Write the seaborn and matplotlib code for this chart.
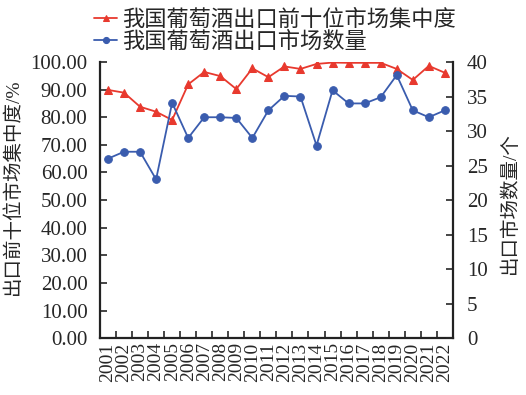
import matplotlib
matplotlib.use('Agg')
import matplotlib.pyplot as plt
from matplotlib.ticker import FixedLocator, FormatStrFormatter
import seaborn as sns
import pandas as pd

years = list(range(2001, 2023))
# top-10 market concentration (%), left axis
concentration = [89.9, 88.9, 83.8, 82.0, 79.0, 91.9, 96.4, 94.9, 90.2, 97.7, 94.5,
                 98.4, 97.5, 99.3, 99.8, 99.7, 99.7, 99.7, 97.5, 93.5, 98.6, 96.1]
# number of export markets, right axis
markets = [26.0, 27.0, 27.0, 23.0, 34.1, 29.0, 32.0, 32.0, 31.9, 29.0, 33.0,
           35.1, 35.0, 27.9, 35.9, 34.0, 34.0, 34.9, 38.1, 33.0, 32.0, 33.0]

label_red = '我国葡萄酒出口前十位市场集中度'
label_blue = '我国葡萄酒出口市场数量'

df = pd.DataFrame({'year': years, 'conc': concentration, 'n': markets})

sns.set_style('ticks')
plt.rcParams['font.family'] = ['Liberation Serif', 'Noto Sans CJK SC', 'DejaVu Sans']
plt.rcParams['font.size'] = 14

red = '#e8392e'
blue = '#3a5cae'

fig = plt.figure(figsize=(5.26, 3.95), dpi=100)
ax = fig.add_axes([0.190, 0.144, 0.671, 0.699])
ax2 = ax.twinx()

sns.lineplot(data=df, x='year', y='conc', ax=ax, color=red, lw=1.3,
             marker='^', markersize=5.5, markeredgecolor=red, label=label_red, legend=False)
sns.lineplot(data=df, x='year', y='n', ax=ax2, color=blue, lw=1.3,
             marker='o', markersize=5.5, markeredgecolor=blue, label=label_blue, legend=False)

ax.set_xlim(2000.5, 2022.5)
ax.set_ylim(0, 100)
ax2.set_ylim(0, 40)
ax.set_yticks([0, 10, 20, 30, 40, 50, 60, 70, 80, 90, 100])
ax.yaxis.set_major_formatter(FormatStrFormatter('%.2f'))
ax2.set_yticks([0, 5, 10, 15, 20, 25, 30, 35, 40])

ax.set_xticks(years)
ax.set_xticklabels([str(y) for y in years], rotation=90)
ax.xaxis.set_minor_locator(FixedLocator([y + 0.5 for y in years[:-1]]))
ax.tick_params(axis='x', which='major', length=0, pad=3, labelsize=14)
ax.tick_params(axis='x', which='minor', direction='in', length=5, width=1.2)
ax.tick_params(axis='y', direction='in', length=5, width=1.2, labelsize=15, pad=9)
ax2.tick_params(axis='y', direction='in', length=5, width=1.2, labelsize=15, pad=10)

for a in (ax, ax2):
    a.spines['top'].set_visible(False)
    for s in ('left', 'right', 'bottom'):
        a.spines[s].set_linewidth(1.6)
        a.spines[s].set_color('#222222')
ax.spines['right'].set_visible(False)
ax2.spines['left'].set_visible(False)
ax2.spines['bottom'].set_visible(False)

ax.set_xlabel('')
ax.set_ylabel('出口前十位市场集中度/%', fontsize=14)
ax.yaxis.set_label_coords(-0.22, 0.55)
ax2.set_ylabel('出口市场数量/个', fontsize=14, rotation=90)
ax2.yaxis.set_label_coords(1.135, 0.49)

h1, l1 = ax.get_legend_handles_labels()
h2, l2 = ax2.get_legend_handles_labels()
fig.legend(h1 + h2, l1 + l2, loc='upper left', bbox_to_anchor=(0.15, 1.015),
           frameon=False, fontsize=16, handlelength=1.0, handletextpad=0.25,
           labelspacing=0.05, borderpad=0.2, markerscale=0.8)

plt.savefig('out.png', dpi=100)
plt.close('all')
